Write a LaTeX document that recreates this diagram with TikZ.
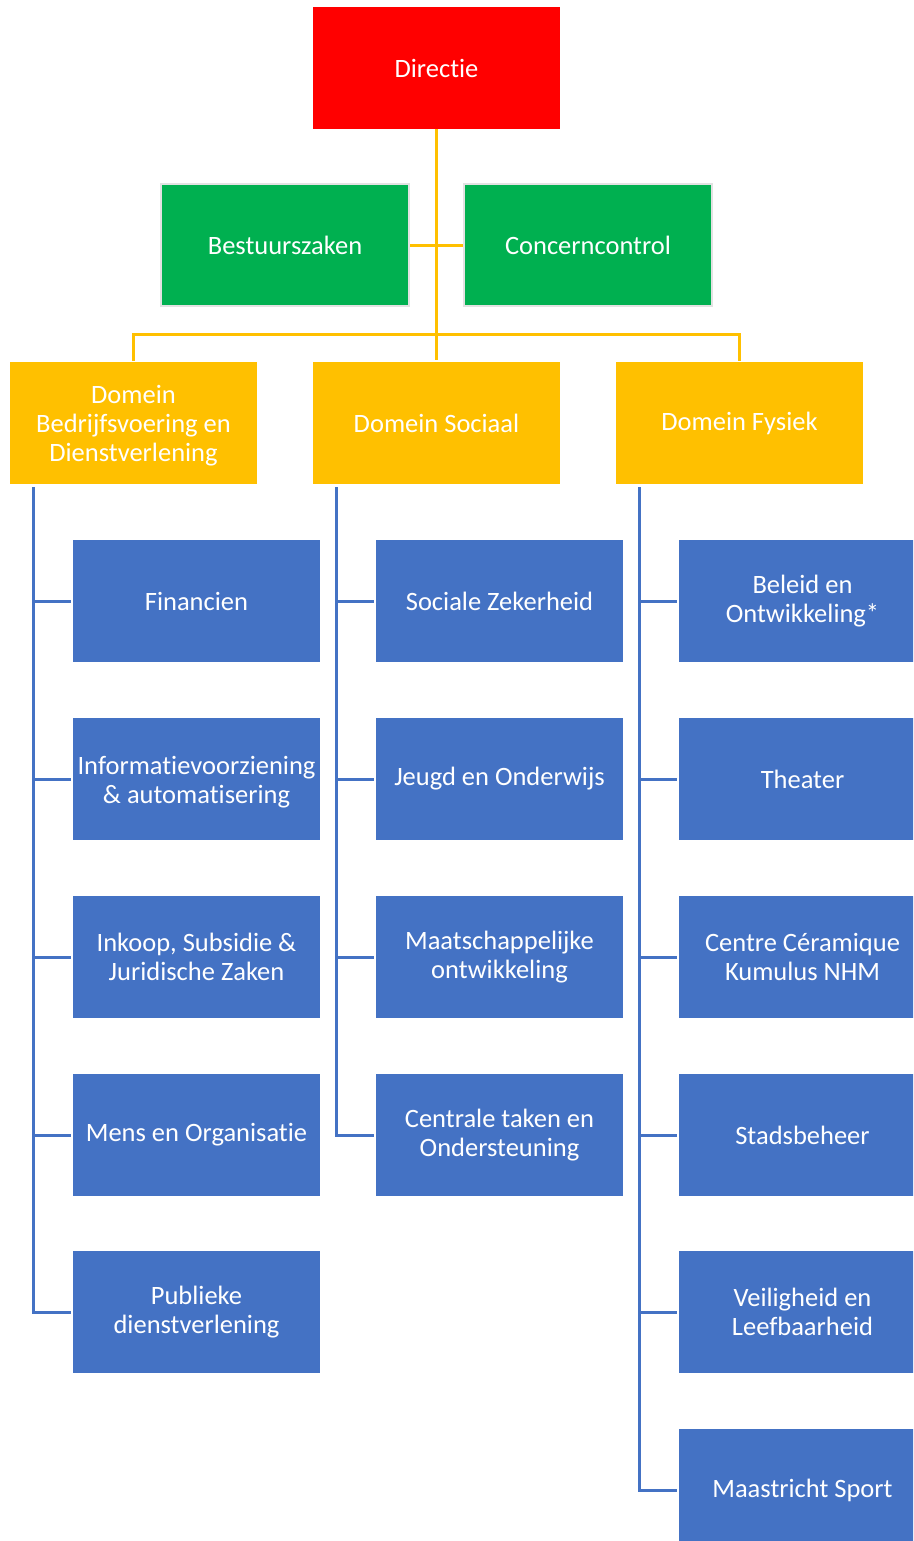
\documentclass[tikz,border=0pt]{standalone}
\usepackage{fontspec}
\setmainfont[Ligatures=NoCommon]{Carlito}
\usetikzlibrary{calc,positioning}
\definecolor{color_top}{HTML}{FF0000}
\definecolor{color_staff}{HTML}{00B050}
\definecolor{color_domain}{HTML}{FFC000}
\definecolor{color_unit}{HTML}{4472C4}
\definecolor{color_edge}{HTML}{E2E2E2}

\tikzset{
	box/.style={minimum width=247pt, minimum height=122pt, inner sep=0pt, align=center, text=white, font=\fontsize{26.5}{29}\selectfont},
	topbox/.style={box, fill=color_top},
	staffbox/.style={box, fill=color_staff, draw=color_edge, line width=2.5pt, minimum width=248pt},
	domainbox/.style={box, fill=color_domain},
	unitbox/.style={box, fill=color_unit},
	domainline/.style={color_domain, line width=3pt},
	unitline/.style={color_unit, line width=3pt}
}

\begin{document}
\begin{tikzpicture}[x=1pt,y=1pt]
	\clip (0, 0) rectangle (913, -1541);
	% Top
	\node[topbox] (dir) at (436.5, -68) {Directie};
	\node[staffbox] (bz) at (285, -245) {Bestuurszaken};
	\node[staffbox] (cc) at (588, -245) {Concerncontrol};

	% Domains
	\node[domainbox] (domB) at (133.5, -423) {\rule{0pt}{24pt}Domein\\Bedrijfsvoering en\\Dienstverlening};
	\node[domainbox] (domS) at (436.5, -423) {Domein Sociaal};
	\node[domainbox] (domF) at (739.5, -423) {Domein Fysiek};

	% Units
	\node[unitbox] (b1) at (196.5, -601) {Financien};
	\node[unitbox] (b2) at (196.5, -779) {\rule{0pt}{24pt}Informatievoorziening\\\& automatisering};
	\node[unitbox] (b3) at (196.5, -957) {Inkoop, Subsidie \&\\Juridische Zaken};
	\node[unitbox] (b4) at (196.5, -1135) {Mens en Organisatie};
	\node[unitbox] (b5) at (196.5, -1312) {Publieke\\dienstverlening};

	\node[unitbox] (s1) at (499.5, -601) {Sociale Zekerheid};
	\node[unitbox] (s2) at (499.5, -779) {Jeugd en Onderwijs};
	\node[unitbox] (s3) at (499.5, -957) {Maatschappelijke\\ontwikkeling};
	\node[unitbox] (s4) at (499.5, -1135) {Centrale taken en\\Ondersteuning};

	\node[unitbox] (f1) at (802.5, -601) {Beleid en\\Ontwikkeling*};
	\node[unitbox] (f2) at (802.5, -779) {Theater};
	\node[unitbox] (f3) at (802.5, -957) {Centre Céramique\\Kumulus NHM};
	\node[unitbox] (f4) at (802.5, -1135) {Stadsbeheer};
	\node[unitbox] (f5) at (802.5, -1312) {Veiligheid en\\Leefbaarheid};
	\node[unitbox] (f6) at (802.5, -1490) {Maastricht Sport};

	% Top lines
	\coordinate (bar) at (436.5, -334);
	\draw[domainline] (dir.south) -- ($(domS.north)+(0,2)$);
	\draw[domainline] (bz.east) -- (cc.west);
	\draw[domainline] ($(domB.north)+(0,1)$) |- (bar) -| ($(domF.north)+(0,1)$);

	% Unit lines
	\coordinate (spineB) at ($(domB.south west)+(24,-3)$);
	\coordinate (spineS) at ($(domS.south west)+(24,-3)$);
	\coordinate (spineF) at ($(domF.south west)+(24,-3)$);
	\foreach \i in {1,...,4}
		\draw[unitline, shorten <=2pt] (b\i.west) -- (b\i.west -| spineB);
	\draw[unitline, shorten >=2pt] (spineB) |- (b5.west);
	\foreach \i in {1,...,3}
		\draw[unitline, shorten <=2pt] (s\i.west) -- (s\i.west -| spineS);
	\draw[unitline, shorten >=2pt] (spineS) |- (s4.west);
	\foreach \i in {1,...,5}
		\draw[unitline, shorten <=2pt] (f\i.west) -- (f\i.west -| spineF);
	\draw[unitline, shorten >=2pt] (spineF) |- (f6.west);
\end{tikzpicture}
\end{document}
